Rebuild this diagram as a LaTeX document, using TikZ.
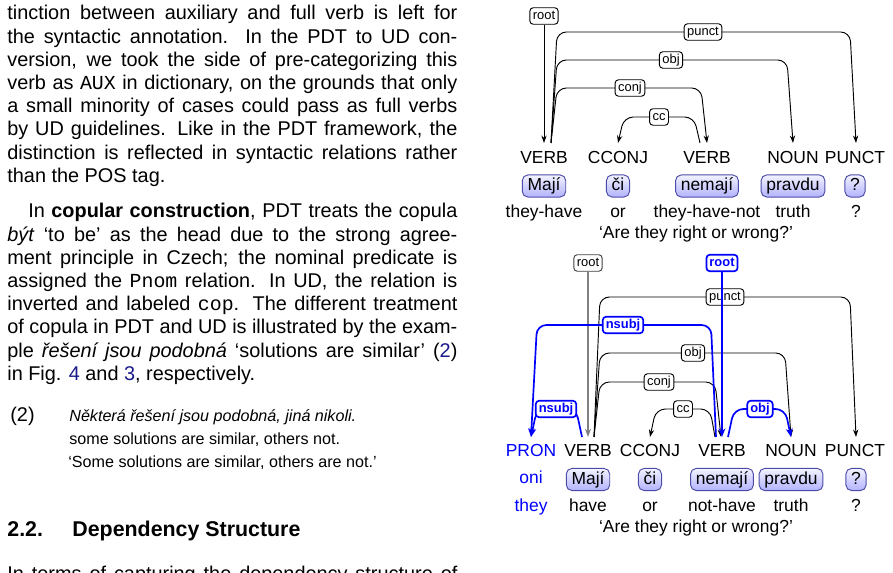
\documentclass[tikz,border=0pt]{standalone}
\usepackage{fontspec}
\setmainfont{Liberation Sans}
\setmonofont{Liberation Mono}
\usetikzlibrary{arrows.meta}
\definecolor{linkblue}{rgb}{0.1,0.1,0.55}
\definecolor{ublue}{rgb}{0,0,1}
\definecolor{boxborder}{rgb}{0.3,0.3,0.65}
\newlength\colw \setlength\colw{240pt}
\newcommand\bodyfont{\fontsize{10.6pt}{12.4pt}\selectfont}
\newcommand\exfont{\fontsize{8.6pt}{11pt}\selectfont}
\newcommand\dfont{\fontsize{9.3pt}{11pt}\selectfont}
\newcommand\lfont{\fontsize{6.9pt}{8pt}\selectfont}
\newcommand\jl[1]{\makebox[\colw][s]{#1}}
\tikzset{
  bodyline/.style={anchor=base west, inner sep=0pt, font=\bodyfont},
  exline/.style={anchor=base west, inner sep=0pt, font=\exfont},
  posl/.style={anchor=base, inner sep=0pt, font=\dfont},
  glossl/.style={anchor=base, inner sep=0pt, font=\dfont},
  wbox/.style={draw=boxborder, line width=0.5pt, rounded corners=3pt, top color=blue!5, bottom color=blue!30, inner xsep=2.8pt, inner ysep=1.4pt, text height=7pt, text depth=2pt, font=\dfont},
  lab/.style={draw=black, line width=0.5pt, rounded corners=1.8pt, fill=white, inner xsep=1.6pt, inner ysep=1.1pt, text height=5pt, text depth=1.6pt, font=\lfont},
  blab/.style={lab, draw=ublue, text=ublue, line width=0.9pt, font=\lfont\bfseries},
  glab/.style={lab, draw=black!75},
  dep/.style={draw=black, line width=0.5pt, rounded corners=5pt, -{Stealth[length=4pt,width=2.8pt]}},
  bdep/.style={draw=ublue, line width=0.9pt, rounded corners=5pt, -{Stealth[length=4.6pt,width=3.6pt]}},
  gdep/.style={draw=black!50, line width=0.9pt, -{Stealth[length=4.4pt,width=3.2pt]}}
}
\begin{document}
\begin{tikzpicture}[x=0.53333pt,y=-0.53333pt]
\useasboundingbox (0,0) rectangle (893,573);
\clip (0,0) rectangle (893,573);
% ---------- left column text ----------
\node[bodyline] (p1a) at (7,20) {\jl{tinction between auxiliary and full verb is left for}};
\node[bodyline] (p1b) at (7,43.2) {\jl{the syntactic annotation.  In the PDT to UD con-}};
\node[bodyline] (p1c) at (7,66.4) {\jl{version, we took the side of pre-categorizing this}};
\node[bodyline] (p1d) at (7,89.6) {\jl{verb as \texttt{AUX} in dictionary, on the grounds that only}};
\node[bodyline] (p1e) at (7,112.8) {\jl{a small minority of cases could pass as full verbs}};
\node[bodyline] (p1f) at (7,136) {\jl{by UD guidelines. Like in the PDT framework, the}};
\node[bodyline] (p1g) at (7,159.2) {\jl{distinction is reflected in syntactic relations rather}};
\node[bodyline] (p1h) at (7,182.4) {than the POS tag.};
\node[bodyline] (p2a) at (28,218) {\makebox[\dimexpr\colw-11.2pt][s]{In \textbf{copular construction}, PDT treats the copula}};
\node[bodyline] (p2b) at (7,241.2) {\jl{\textit{být} `to be' as the head due to the strong agree-}};
\node[bodyline] (p2c) at (7,264.4) {\jl{ment principle in Czech; the nominal predicate is}};
\node[bodyline] (p2d) at (7,287.6) {\jl{assigned the \texttt{Pnom} relation. In UD, the relation is}};
\node[bodyline] (p2e) at (7,310.8) {\jl{inverted and labeled \texttt{cop}. The different treatment}};
\node[bodyline] (p2f) at (7,334) {\jl{of copula in PDT and UD is illustrated by the exam-}};
\node[bodyline] (p2g) at (7,357.2) {\jl{ple \textit{řešení jsou podobná} `solutions are similar' (\textcolor{linkblue}{2})}};
\node[bodyline] (p2h) at (7,380.4) {in Fig. \textcolor{linkblue}{4} and \textcolor{linkblue}{3}, respectively.};
\node[exline, font=\fontsize{10.6pt}{12pt}\selectfont] (exn) at (10,422) {(2)};
\node[exline] (ex1) at (69,422) {\textit{Některá řešení jsou podobná, jiná nikoli.}};
\node[exline] (ex2) at (69,445) {some solutions are similar, others not.};
\node[exline] (ex3) at (68,468) {`Some solutions are similar, others are not.'};
\node[anchor=base west, inner sep=0pt, font=\fontsize{11.4pt}{13pt}\selectfont\bfseries] (hnum) at (7,537) {2.2.};
\node[anchor=base west, inner sep=0pt, font=\fontsize{11.4pt}{13pt}\selectfont\bfseries] (htxt) at (72,537) {Dependency Structure};
\node[bodyline] (p3a) at (7,581) {\jl{In terms of capturing the dependency structure of}};
% ---------- diagram 1 ----------
\foreach \x/\t/\n in {544/VERB/1,618/CCONJ/2,707/VERB/3,793/NOUN/4,855/PUNCT/5}
  \node[posl] (ap\n) at (\x,164) {\t};
\node[wbox] (aw1) at (544,186) {Mají};
\node[wbox] (aw2) at (618,186) {či};
\node[wbox] (aw3) at (707,186) {nemají};
\node[wbox] (aw4) at (793,186) {pravdu};
\node[wbox] (aw5) at (855,186) {?};
\node[glossl] (ag1) at (544,218) {they-have};
\node[glossl] (ag2) at (618,218) {or};
\node[glossl] (ag3) at (707,218) {they-have-not};
\node[glossl] (ag4) at (793,218) {truth};
\node[glossl] (ag5) at (856,218) {?};
\node[glossl] (atr) at (696,239) {`Are they right or wrong?'};
\coordinate (ai1) at (544,143);
\coordinate (ao1) at (551,143);
\coordinate (ai2) at (618,143);
\coordinate (ai3) at (707,143);
\coordinate (ao3) at (700,143);
\coordinate (ai4) at (793,143);
\coordinate (ai5) at (856,143);
\draw[dep] (ao1) -- (557,32) -- (850,32) -- (ai5);
\draw[dep] (ao1) -- (557,60) -- (787,60) -- (ai4);
\draw[dep] (ao1) -- (557,88) -- (701,88) -- (ai3);
\draw[dep] (ao3) -- (694,117) -- (624,117) -- (ai2);
\node[lab] (alroot) at (544,16) {root};
\draw[dep] (alroot) -- (ai1);
\node[lab] (alpunct) at (703,32) {punct};
\node[lab] (alobj) at (671,60) {obj};
\node[lab] (alconj) at (630,88) {conj};
\node[lab] (alcc) at (659,117) {cc};
% ---------- diagram 2 ----------
\node[posl, text=ublue] (bp0) at (531,457) {PRON};
\foreach \x/\t/\n in {588/VERB/1,650/CCONJ/2,722/VERB/3,791/NOUN/4,855/PUNCT/5}
  \node[posl] (bp\n) at (\x,457) {\t};
\node[glossl, text=ublue] (bw0) at (531,484) {oni};
\node[wbox] (bw1) at (588,479.5) {Mají};
\node[wbox] (bw2) at (650,479.5) {či};
\node[wbox] (bw3) at (722,479.5) {nemají};
\node[wbox] (bw4) at (791,479.5) {pravdu};
\node[wbox] (bw5) at (856,479.5) {?};
\node[glossl, text=ublue] (bg0) at (531,512) {they};
\node[glossl] (bg1) at (588,512) {have};
\node[glossl] (bg2) at (650,512) {or};
\node[glossl] (bg3) at (722,512) {not-have};
\node[glossl] (bg4) at (791,512) {truth};
\node[glossl] (bg5) at (856,512) {?};
\node[glossl] (btr) at (696,532) {`Are they right or wrong?'};
\coordinate (bi0) at (531,437);
\coordinate (bi1) at (588,437);
\coordinate (bo1) at (594,437);
\coordinate (bob1) at (582,437);
\coordinate (bi2) at (650,437);
\coordinate (bi3) at (722,437);
\coordinate (bic3) at (721,437);
\coordinate (bo3) at (715,437);
\coordinate (bob3) at (716,437);
\coordinate (bor3) at (728,437);
\coordinate (bi4) at (791,437);
\coordinate (bi5) at (856,437);
% black (original) edges
\draw[dep] (bo1) -- (600,297) -- (850,297) -- (bi5);
\draw[dep] (bo1) -- (600,353) -- (785,353) -- (bi4);
\draw[dep] (bo1) -- (600,382) -- (715,382) -- (bic3);
\draw[dep] (bo3) -- (710,409) -- (656,409) -- (bi2);
\node[lab] (blpunct) at (725,297) {punct};
\node[lab] (blobj) at (693,353) {obj};
\node[lab] (blconj) at (659,382) {conj};
\node[lab] (blcc) at (683,409) {cc};
\node[glab] (blroot) at (588,263) {root};
\draw[gdep] (blroot) -- (bi1);
% blue (new) edges
\node[blab] (bbroot) at (722,263) {root};
\draw[bdep] (bbroot) -- (bi3);
\draw[bdep] (bob3) -- (711,325) -- (537,325) -- (bi0);
\draw[bdep] (bob1) -- (576,409) -- (537,409) -- (bi0);
\draw[bdep] (bor3) -- (734,409) -- (785,409) -- (bi4);
\node[blab] (bbnsubj) at (623,325) {nsubj};
\node[blab] (bbnsubj2) at (556,409) {nsubj};
\node[blab] (bbobj) at (760,409) {obj};
\end{tikzpicture}
\end{document}
